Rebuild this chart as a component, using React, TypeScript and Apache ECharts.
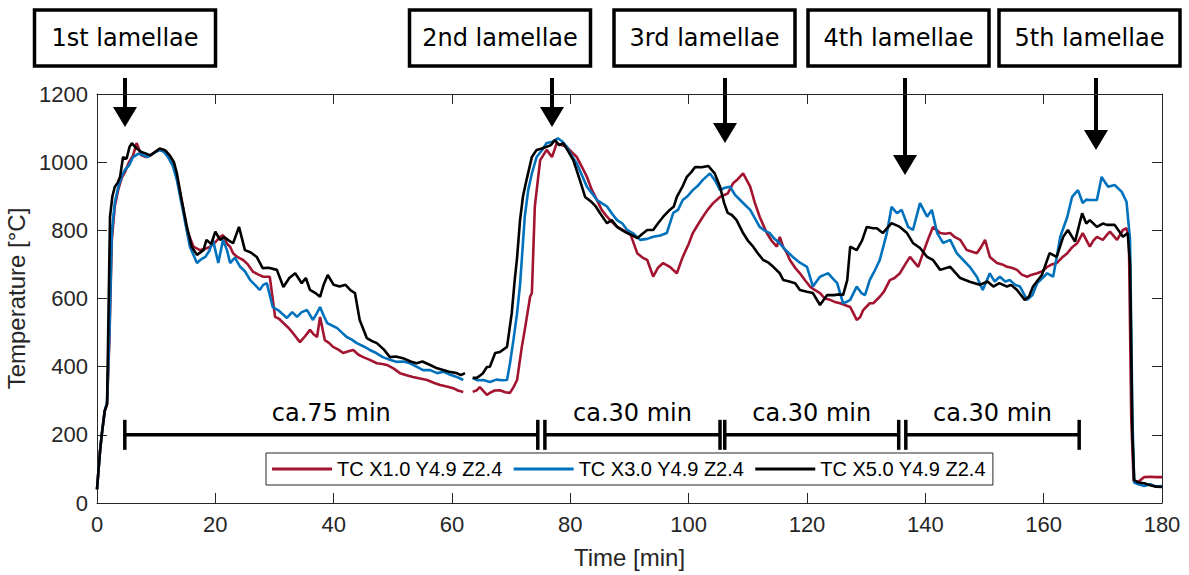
import React, { useEffect, useRef } from "react";
import * as echarts from "echarts";

// ---- data (time [min], temperature [°C]) ----
const tcX1: (number | null)[][] = [
  [0,40],[0.5,150],[0.8,200],[1.3,270],[1.7,290],[2.1,480],[2.5,770],[3.0,870],[3.6,920],[4.2,955],[4.7,970],[5.4,1000],[6.1,1020],[6.7,1056],[7.5,1020],[8.3,1015],[9.0,1020],[9.8,1030],[10.6,1036],[11.5,1030],[12.3,1010],[13.0,990],[13.8,930],[14.5,870],[15.2,801],[16.3,752],[17.4,742],[18.2,745],[19.1,752],[20.0,765],[20.8,781],[21.3,786],[22.0,760],[22.5,752],[23.0,733],[23.7,722],[24.7,713],[25.5,700],[26.4,678],[27.3,670],[28.1,664],[29.2,664],[30.1,546],[30.8,540],[31.5,528],[32.3,515],[33.1,499],[34.3,472],[35.2,490],[36.0,508],[36.6,495],[37.2,487],[37.7,546],[38.5,478],[39.2,470],[39.9,458],[40.8,450],[41.6,440],[42.5,445],[43.3,449],[44.2,435],[45.0,428],[46.1,420],[47.3,410],[48.2,408],[49.0,405],[50.1,395],[51.2,381],[52.3,375],[53.4,370],[54.6,365],[55.8,361],[57.0,352],[58.0,346],[59.1,342],[60.2,337],[61.0,330],[61.9,326],[63,null],[63.5,326],[64.2,331],[64.7,340],[65.9,317],[66.4,323],[67.2,330],[68.1,331],[69.0,325],[69.8,323],[70.4,340],[71.0,361],[71.8,458],[72.3,508],[73.2,605],[73.5,616],[74.0,870],[74.9,1006],[76.0,1036],[76.9,1015],[77.7,1056],[78.5,1050],[79.4,1045],[80.2,1030],[81.1,1015],[82.0,985],[82.8,957],[83.6,920],[84.5,889],[85.3,860],[86.2,840],[87.0,825],[87.9,810],[89.0,800],[90.1,792],[91.3,733],[92.2,720],[93.0,713],[94.0,664],[94.8,690],[95.7,704],[96.8,693],[98.0,674],[99.0,722],[100.0,760],[100.7,792],[101.5,815],[102.4,840],[103.2,860],[104.1,879],[105.3,898],[106.6,908],[107.5,938],[108.3,950],[109.2,967],[110.4,928],[111.2,880],[112.0,840],[113.2,792],[114.0,770],[114.9,752],[115.4,781],[116.0,750],[116.6,733],[117.1,713],[118.0,690],[118.8,674],[119.6,655],[120.5,635],[121.3,625],[122.2,616],[123.0,600],[123.9,596],[124.7,590],[125.6,586],[126.5,580],[127.3,575],[127.9,555],[128.4,537],[129.0,546],[129.5,566],[130.6,586],[131.2,586],[132.3,605],[133.0,620],[134.0,654],[134.8,660],[135.7,674],[136.6,700],[137.4,722],[138.8,693],[140.0,752],[140.6,780],[141.3,810],[142.5,792],[143.3,790],[144.2,792],[145.0,780],[145.9,772],[147.0,742],[148.7,733],[149.4,750],[150.1,772],[150.9,722],[152.1,704],[153.0,700],[153.8,693],[154.6,690],[155.5,684],[156.3,670],[157.2,664],[158.0,670],[158.9,674],[159.8,680],[160.6,693],[161.4,700],[162.2,704],[163.1,720],[164.0,733],[164.8,750],[165.7,763],[166.6,792],[167.8,752],[168.4,770],[169.0,781],[170.0,772],[170.6,785],[171.2,796],[172.4,772],[173.4,801],[174.0,806],[174.4,780],[174.8,250],[175.2,65],[176.0,62],[177.0,76],[178.0,77],[179.0,76],[180.0,76]
];

const tcX3: (number | null)[][] = [
  [0,40],[0.5,150],[0.8,200],[1.3,270],[1.7,296],[2.1,500],[2.5,792],[3.0,880],[3.6,928],[4.2,960],[4.7,977],[5.4,990],[6.1,1015],[7.0,1025],[7.8,1021],[8.6,1015],[9.5,1026],[10.6,1036],[11.3,1030],[12.0,1015],[12.8,990],[13.5,948],[14.6,851],[15.7,752],[16.9,704],[17.6,715],[18.3,722],[19.0,740],[19.6,772],[20.5,704],[21.3,772],[22.0,740],[22.5,704],[23.3,720],[24.2,693],[25.0,680],[25.9,654],[26.7,640],[27.5,625],[28.1,640],[28.7,645],[29.7,575],[30.6,566],[31.3,555],[32.1,543],[33.0,560],[33.8,546],[34.6,560],[35.5,566],[36.5,537],[37.1,555],[37.7,575],[38.3,550],[38.9,528],[39.8,520],[40.6,513],[41.4,500],[42.2,487],[43.0,480],[43.9,469],[45.0,460],[46.1,449],[47.2,440],[48.3,428],[49.5,420],[50.7,414],[51.8,415],[52.9,410],[54.0,400],[55.1,390],[56.3,390],[57.5,381],[58.6,385],[59.7,376],[60.8,370],[61.9,361],[63,null],[63.5,367],[64.3,360],[65.3,361],[66.4,355],[67.5,362],[68.5,360],[69.3,361],[69.8,410],[70.4,480],[71.0,557],[71.5,640],[72.3,840],[72.9,920],[73.5,967],[74.3,1015],[75.2,1035],[76.0,1056],[77.0,1060],[77.9,1070],[78.7,1060],[79.4,1045],[80.2,1020],[81.1,996],[82.0,960],[82.8,928],[83.6,910],[84.5,889],[85.3,880],[86.2,870],[87.0,850],[87.9,830],[88.8,820],[89.6,801],[90.7,790],[91.8,772],[93.0,775],[94.0,781],[95.2,785],[96.3,792],[97.4,851],[98.2,860],[99.0,889],[99.8,900],[100.7,918],[101.5,930],[102.4,948],[103.6,967],[104.5,945],[105.3,918],[106.1,925],[107.0,928],[107.8,905],[108.7,889],[109.5,875],[110.4,860],[111.2,835],[112.0,810],[112.8,800],[113.7,792],[114.5,775],[115.4,762],[116.5,740],[117.6,722],[118.8,705],[120.0,693],[121.0,635],[121.6,650],[122.2,664],[123.0,670],[123.6,674],[124.3,660],[125.1,645],[126.1,586],[126.7,590],[127.3,596],[128.4,635],[129.2,616],[129.8,610],[130.6,654],[131.4,680],[132.3,713],[133.5,792],[134.3,869],[135.2,850],[136.0,860],[137.1,810],[137.9,801],[138.5,840],[139.1,880],[140.3,840],[141.1,860],[142.0,792],[143.0,763],[144.2,772],[145.3,733],[146.4,713],[147.5,693],[148.7,664],[149.7,625],[150.9,674],[151.7,650],[152.6,664],[153.5,650],[154.3,654],[155.2,640],[156.0,635],[157.2,596],[158.1,610],[158.9,645],[159.8,660],[160.6,674],[161.6,664],[162.2,720],[162.8,781],[164.0,840],[164.8,898],[165.8,918],[166.6,880],[167.2,890],[167.8,889],[169.0,889],[169.8,957],[170.4,940],[170.9,928],[172.0,933],[173.2,913],[174.0,884],[174.6,772],[175.0,250],[175.3,60],[176.0,55],[177.0,50],[178.0,55],[179.0,48],[180.0,50]
];

const tcX5: (number | null)[][] = [
  [0,40],[0.5,150],[0.8,200],[1.3,270],[1.7,290],[2.0,620],[2.2,840],[2.6,900],[3.0,927],[3.5,940],[3.9,957],[4.4,1015],[5.0,1010],[5.5,1045],[5.9,1056],[6.7,1040],[7.5,1030],[8.3,1025],[9.0,1020],[9.8,1030],[10.6,1040],[11.5,1035],[12.3,1020],[13.0,1000],[13.5,967],[14.3,890],[15.2,810],[16.0,752],[16.9,728],[18.0,742],[18.5,772],[19.3,760],[20.0,796],[20.8,772],[21.5,780],[22.3,770],[23.0,762],[24.0,810],[25.0,742],[26.0,735],[27.0,722],[28.0,689],[29.0,690],[30.4,684],[31.5,634],[32.5,660],[33.5,674],[34.6,645],[35.3,660],[36.0,625],[37.0,615],[37.7,605],[38.3,640],[39.0,669],[40.0,640],[41.0,635],[42.0,640],[42.8,625],[43.6,616],[44.4,537],[45.6,484],[46.5,475],[47.3,469],[48.5,450],[49.5,428],[50.5,430],[51.7,425],[53.0,415],[54.0,410],[55.0,415],[56.3,405],[57.5,395],[58.5,390],[59.5,385],[60.8,381],[61.5,375],[62.2,381],[63,null],[63.5,367],[64.2,367],[65.2,380],[65.9,399],[66.4,400],[67.3,440],[68.1,443],[69.3,458],[70.1,557],[70.6,654],[71.0,720],[71.5,830],[72.0,900],[72.6,948],[73.5,1015],[74.3,1036],[75.2,1040],[76.0,1045],[76.7,1050],[77.4,1065],[78.1,1050],[78.8,1056],[79.7,1030],[80.5,1006],[81.6,948],[82.5,898],[83.6,883],[84.3,870],[85.0,851],[86.2,821],[87.0,830],[87.9,810],[88.8,800],[89.6,792],[90.5,785],[91.3,777],[92.2,790],[93.0,801],[94.0,801],[94.8,820],[95.7,840],[96.8,860],[97.5,870],[98.0,898],[99.0,930],[99.7,957],[100.4,970],[101.1,986],[102.2,985],[103.3,989],[104.4,967],[105.3,928],[106.0,880],[106.6,851],[107.3,845],[108.1,830],[109.2,792],[110.0,770],[110.9,752],[111.8,730],[112.6,713],[113.5,705],[114.3,693],[115.4,674],[116.0,654],[117.0,650],[118.0,645],[118.8,625],[120.0,620],[121.0,616],[122.2,581],[123.4,610],[124.5,610],[125.5,612],[126.1,610],[126.8,654],[127.3,752],[128.4,742],[129.3,770],[130.1,810],[131.2,806],[131.8,806],[132.8,792],[134.3,821],[135.7,810],[136.9,792],[137.9,763],[139.1,748],[140.3,722],[141.3,713],[142.5,684],[144.2,693],[145.9,660],[147.5,649],[149.2,640],[150.5,650],[151.5,635],[152.5,645],[153.8,635],[154.5,640],[155.5,625],[156.8,596],[157.5,605],[158.2,635],[159.7,669],[161.0,733],[162.2,722],[163.3,781],[164.1,801],[165.3,767],[166.5,850],[167.2,820],[167.8,830],[169.0,810],[170.0,820],[170.7,816],[172.0,816],[173.4,781],[174.2,792],[174.6,700],[175.0,200],[175.3,67],[176.0,60],[177.0,58],[178.0,52],[179.0,48],[180.0,47]
];

const seriesNames = ["TC X1.0 Y4.9 Z2.4", "TC X3.0 Y4.9 Z2.4", "TC X5.0 Y4.9 Z2.4"];
const seriesColors = ["#A2142F", "#0072BD", "#000000"];

// time spans marked at 200 °C
const spanStarts = [4.7, 75.7, 106.1, 136.7];
const spanEnds = [74.5, 105.3, 135.5, 166];
const spanLabels = ["ca.75 min", "ca.30 min", "ca.30 min", "ca.30 min"];
const spanLevel = 200;

const lamellaeLabels = ["1st lamellae", "2nd lamellae", "3rd lamellae", "4th lamellae", "5th lamellae"];

const xMin = 0, xMax = 180, xStep = 20;
const yMin = 0, yMax = 1200, yStep = 200;

// ---- layout (pixels) ----
const boxX = [34.5, 409.5, 614, 808, 999];
const boxW = 181;
const arrowX = [125, 552, 725, 905, 1096];
const arrowTip = [127, 127, 143, 175, 150];

const AX = "#262626";
const TICK_FONT = "'Liberation Sans', Arial, sans-serif";
const ANNOT_FONT = "'DejaVu Sans', Verdana, sans-serif";

export default function App() {
  const ref = useRef<HTMLDivElement>(null);
  useEffect(() => {
    if (!ref.current) return;
    const chart = echarts.init(ref.current, undefined, { renderer: "svg" });

    const graphics: any[] = [];
    lamellaeLabels.forEach((lab, i) => {
      graphics.push({
        type: "rect",
        shape: { x: boxX[i], y: 10, width: boxW, height: 56 },
        style: { fill: "#fff", stroke: "#000", lineWidth: 3.5 },
      });
      graphics.push({
        type: "text",
        x: boxX[i] + boxW / 2,
        y: 38,
        style: { text: lab, fill: "#000", font: `24px ${ANNOT_FONT}`, align: "center", verticalAlign: "middle" },
      });
      const ax = arrowX[i], tip = arrowTip[i];
      graphics.push({
        type: "line",
        shape: { x1: ax, y1: 78, x2: ax, y2: tip - 18 },
        style: { stroke: "#000", lineWidth: 4 },
      });
      graphics.push({
        type: "polygon",
        shape: { points: [[ax - 12, tip - 20], [ax + 12, tip - 20], [ax, tip]] },
        style: { fill: "#000" },
      });
    });

    const lineSeries = [tcX1, tcX3, tcX5].map((d, i) => ({
      name: seriesNames[i],
      type: "line",
      data: d,
      showSymbol: false,
      symbol: "none",
      connectNulls: false,
      color: seriesColors[i],
      lineStyle: { color: seriesColors[i], width: 2.6 },
      z: 2,
    }));

    const spanData = spanStarts.map((s, i) => [s, spanEnds[i], spanLevel]);
    const plain = (v: number) => String(v);

    const option: any = {
      animation: false,
      backgroundColor: "#fff",
      grid: { left: 97, right: 27, top: 94, bottom: 72, containLabel: false, outerBoundsMode: "none" },
      graphic: graphics,
      legend: {
        data: seriesNames,
        left: 266,
        top: 453,
        orient: "horizontal",
        backgroundColor: "#fff",
        borderColor: AX,
        borderWidth: 1,
        borderRadius: 0,
        padding: [6, 7, 6, 6],
        itemGap: 11,
        itemWidth: 60,
        itemHeight: 3,
        icon: "rect",
        selectedMode: false,
        textStyle: { color: "#000", fontSize: 20, fontFamily: TICK_FONT },
        z: 10,
      },
      xAxis: [
        {
          type: "value",
          min: xMin, max: xMax, interval: xStep,
          position: "bottom",
          name: "Time [min]",
          nameLocation: "middle",
          nameGap: 42,
          nameTextStyle: { color: AX, fontSize: 24, fontFamily: TICK_FONT },
          axisLine: { show: true, onZero: false, lineStyle: { color: AX, width: 1 } },
          axisTick: { show: true, inside: true, length: 10, lineStyle: { color: AX, width: 1 } },
          axisLabel: { color: AX, fontSize: 22, fontFamily: TICK_FONT, margin: 10, formatter: plain },
          splitLine: { show: false },
        },
        {
          type: "value",
          min: xMin, max: xMax, interval: xStep,
          position: "top",
          axisLine: { show: true, onZero: false, lineStyle: { color: AX, width: 1 } },
          axisTick: { show: true, inside: true, length: 10, lineStyle: { color: AX, width: 1 } },
          axisLabel: { show: false },
          splitLine: { show: false },
        },
      ],
      yAxis: [
        {
          type: "value",
          min: yMin, max: yMax, interval: yStep,
          position: "left",
          name: "Temperature [°C]",
          nameLocation: "middle",
          nameGap: 55,
          nameTextStyle: { color: AX, fontSize: 24, fontFamily: TICK_FONT },
          axisLine: { show: true, onZero: false, lineStyle: { color: AX, width: 1 } },
          axisTick: { show: true, inside: true, length: 10, lineStyle: { color: AX, width: 1 } },
          axisLabel: { color: AX, fontSize: 22, fontFamily: TICK_FONT, margin: 9, formatter: plain },
          splitLine: { show: false },
        },
        {
          type: "value",
          min: yMin, max: yMax, interval: yStep,
          position: "right",
          axisLine: { show: true, onZero: false, lineStyle: { color: AX, width: 1 } },
          axisTick: { show: true, inside: true, length: 10, lineStyle: { color: AX, width: 1 } },
          axisLabel: { show: false },
          splitLine: { show: false },
        },
      ],
      series: [
        ...lineSeries,
        {
          type: "custom",
          name: "spans",
          data: spanData,
          xAxisIndex: 0,
          yAxisIndex: 0,
          clip: false,
          silent: true,
          z: 3,
          encode: { x: [0, 1], y: 2 },
          renderItem: (params: any, api: any) => {
            const a = api.coord([api.value(0), api.value(2)]);
            const b = api.coord([api.value(1), api.value(2)]);
            const h = 15;
            const st = { stroke: "#000", lineWidth: 3.5 };
            return {
              type: "group",
              children: [
                { type: "line", shape: { x1: a[0], y1: a[1], x2: b[0], y2: b[1] }, style: st },
                { type: "line", shape: { x1: a[0], y1: a[1] - h, x2: a[0], y2: a[1] + h }, style: st },
                { type: "line", shape: { x1: b[0], y1: b[1] - h, x2: b[0], y2: b[1] + h }, style: st },
                {
                  type: "text",
                  x: (a[0] + b[0]) / 2,
                  y: a[1] - 10,
                  style: {
                    text: spanLabels[params.dataIndex],
                    fill: "#000",
                    font: `24px ${ANNOT_FONT}`,
                    align: "center",
                    verticalAlign: "bottom",
                  },
                },
              ],
            };
          },
        },
      ],
    };

    chart.setOption(option);
    return () => chart.dispose();
  }, []);

  return (
    <div
      ref={ref}
      style={{ position: "fixed", left: 0, top: 0, width: 1189, height: 575, background: "#fff" }}
    />
  );
}
